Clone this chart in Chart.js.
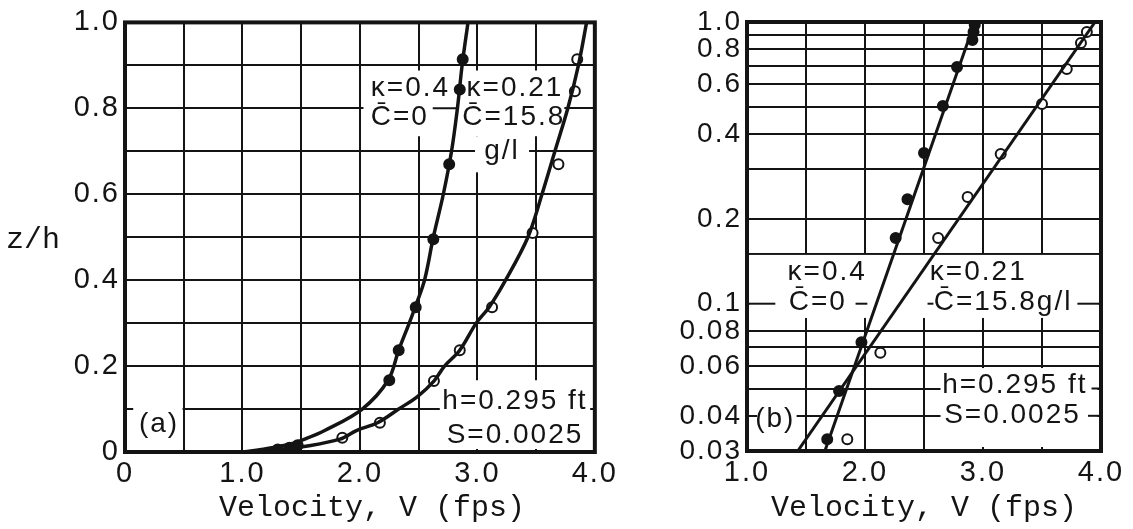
<!DOCTYPE html>
<html><head><meta charset="utf-8">
<script src="https://cdn.jsdelivr.net/npm/chart.js@4.4.1/dist/chart.umd.min.js"></script>
<style>
html,body{margin:0;padding:0;background:#fff;width:1133px;height:529px;overflow:hidden}
#wa{position:absolute;left:0;top:0;width:620px;height:529px}
#wb{position:absolute;left:640px;top:0;width:493px;height:529px}
canvas{display:block}
</style></head><body>
<div id="wa"><canvas id="ca" width="620" height="529"></canvas></div>
<div id="wb"><canvas id="cb" width="493" height="529"></canvas></div>
<script>
// ---------- Panel (a): linear z/h ----------
const aCurve1V = [1.00, 1.12, 1.25, 1.40, 1.53, 1.70, 2.02, 2.24, 2.33, 2.42, 2.47, 2.55, 2.625, 2.71, 2.78, 2.83, 2.87, 2.92];
const aCurve1Z = [0.000,0.004,0.010,0.018,0.030,0.050,0.100,0.167,0.237,0.300,0.337,0.400,0.500,0.600,0.700,0.800,0.900,1.000];
const aCurve2V = [1.00, 1.30, 1.51, 1.83, 1.97, 2.15, 2.33, 2.49, 2.63, 2.72, 2.85, 2.99, 3.10, 3.24, 3.43, 3.55, 3.66, 3.77, 3.86, 3.93];
const aCurve2Z = [0.000,0.004,0.012,0.030,0.050,0.068,0.100,0.129,0.165,0.200,0.237,0.300,0.337,0.400,0.500,0.600,0.700,0.800,0.900,1.000];
const aFilledV = [1.30, 1.40, 1.47, 2.25, 2.33, 2.475, 2.625, 2.76, 2.85, 2.875];
const aFilledZ = [0.006, 0.010, 0.016, 0.167, 0.237, 0.337, 0.495, 0.670, 0.844, 0.914];
const aOpenV = [1.85, 2.17, 2.63, 2.85, 3.125, 3.47, 3.69, 3.83, 3.85];
const aOpenZ = [0.033, 0.068, 0.165, 0.237, 0.337, 0.510, 0.670, 0.840, 0.914];
const aXLabels = [0, 1, 2, 3, 4];
const aYLabels = [0, 0.2, 0.4, 0.6, 0.8, 1.0];

// ---------- Panel (b): log z/h ----------
const bLine1V = [1.66, 2.93];
const bLine1Z = [0.03, 1.0];
const bLine2V = [1.43, 3.95];
const bLine2Z = [0.03, 1.0];
const bFilledV = [1.68, 1.78, 1.97, 2.26, 2.36, 2.50, 2.66, 2.78, 2.91, 2.92, 2.93];
const bFilledZ = [0.033, 0.049, 0.073, 0.171, 0.235, 0.343, 0.503, 0.692, 0.863, 0.921, 0.976];
const bOpenV = [1.85, 2.13, 2.62, 2.87, 3.15, 3.50, 3.71, 3.83, 3.88];
const bOpenZ = [0.033, 0.067, 0.171, 0.239, 0.340, 0.512, 0.681, 0.842, 0.921];
const bYGrid = [0.03, 0.04, 0.05, 0.06, 0.07, 0.08, 0.1, 0.15, 0.2, 0.3, 0.4, 0.5, 0.6, 0.7, 0.8, 0.9, 1.0];
const bYLabels = [0.03, 0.04, 0.06, 0.08, 0.1, 0.2, 0.4, 0.6, 0.8, 1.0];
const bXLabels = [1, 2, 3, 4];

const INK = '#141414';
const SANS = '"Liberation Sans", Arial, sans-serif';
const MONO = '"Liberation Mono", "DejaVu Sans Mono", monospace';
const pts = (xs, ys) => xs.map((v, i) => ({x: v, y: ys[i]}));

const notesPlugin = {
  id: 'notes',
  beforeDraw(chart) { try { chart.ctx.letterSpacing = '2px'; } catch(e) {} },
  beforeDatasetsDraw(chart, args, o) {
    const {ctx, chartArea: ca, scales: {x, y}} = chart;
    ctx.save();
    ctx.beginPath(); ctx.rect(ca.left, ca.top, ca.width, ca.height); ctx.clip();
    ctx.fillStyle = '#fff';
    for (const b of o.boxes) {
      const x0 = x.getPixelForValue(b[0]), x1 = x.getPixelForValue(b[1]);
      const y0 = y.getPixelForValue(b[2]), y1 = y.getPixelForValue(b[3]);
      ctx.fillRect(Math.min(x0, x1), Math.min(y0, y1), Math.abs(x1 - x0), Math.abs(y1 - y0));
    }
    ctx.strokeStyle = INK; ctx.lineWidth = 2;
    for (const s of o.segs) {
      const py = y.getPixelForValue(s[2]);
      ctx.beginPath(); ctx.moveTo(x.getPixelForValue(s[0]), py); ctx.lineTo(x.getPixelForValue(s[1]), py); ctx.stroke();
    }
    ctx.restore();
    ctx.save();
    try { ctx.letterSpacing = '2px'; } catch(e) {}
    ctx.fillStyle = INK; ctx.textAlign = 'center'; ctx.textBaseline = 'middle';
    ctx.font = o.font;
    for (const t of o.texts) ctx.fillText(t.s, x.getPixelForValue(t.x), y.getPixelForValue(t.y));
    ctx.restore();
  },
  afterDraw(chart, args, o) {
    const {ctx, chartArea: ca} = chart;
    ctx.save();
    ctx.strokeStyle = INK; ctx.lineWidth = 4; ctx.lineJoin = 'miter';
    ctx.strokeRect(ca.left, ca.top, ca.width, ca.height);
    try { ctx.letterSpacing = '0px'; } catch(e) {}
    ctx.fillStyle = INK; ctx.textAlign = 'center'; ctx.textBaseline = 'middle';
    ctx.font = '30px ' + MONO;
    ctx.fillText('Velocity, V (fps)', (ca.left + ca.right) / 2 + o.titleDx, 508);
    if (o.yTitle) ctx.fillText(o.yTitle, o.yTitlePos[0], o.yTitlePos[1]);
    ctx.restore();
  }
};

function lineDs(data, w) {
  return {type: 'line', data, showLine: true, borderColor: INK, borderWidth: w,
          pointRadius: 0, fill: false, tension: 0.35};
}
function ptDs(data, filled) {
  return {type: 'line', data, showLine: false, pointRadius: 5, pointBorderWidth: 2,
          pointBorderColor: INK, pointBackgroundColor: filled ? INK : '#fff'};
}
const gridOpts = {color: INK, lineWidth: 2, drawTicks: false};

// ---------- Chart (a) ----------
new Chart(document.getElementById('ca'), {
  type: 'line',
  data: {datasets: [
    lineDs(pts(aCurve1V, aCurve1Z), 3.5),
    lineDs(pts(aCurve2V, aCurve2Z), 3.5),
    ptDs(pts(aFilledV, aFilledZ), true),
    ptDs(pts(aOpenV, aOpenZ), false)
  ]},
  options: {
    responsive: false, animation: false, events: [],
    layout: {padding: {left: 0, top: 22, right: 21, bottom: 0}},
    plugins: {legend: {display: false}, tooltip: {enabled: false},
      notes: {
        font: '28px ' + SANS, titleDx: 12, yTitle: 'z/h', yTitlePos: [33, 240],
        boxes: [[2.03, 3.74, 0.735, 0.888], [2.98, 3.44, 0.651, 0.735],
                [2.68, 3.96, 0.007, 0.167], [0.07, 0.49, 0.012, 0.114]],
        segs: [[2.62, 2.84, 0.8]],
        texts: [
          {s: 'κ=0.4', x: 2.43, y: 0.847}, {s: 'C\u0304=0', x: 2.34, y: 0.779},
          {s: 'κ=0.21', x: 3.32, y: 0.847}, {s: 'C\u0304=15.8', x: 3.31, y: 0.779},
          {s: 'g/l', x: 3.21, y: 0.70},
          {s: 'h=0.295 ft', x: 3.32, y: 0.119}, {s: 'S=0.0025', x: 3.32, y: 0.040},
          {s: '(a)', x: 0.29, y: 0.065}
        ]
      }
    },
    scales: {
      x: {type: 'linear', min: 0, max: 4, grid: gridOpts, border: {display: false},
          afterFit: s => { s.height = 77; },
          ticks: {stepSize: 0.5, autoSkip: false, maxRotation: 0, padding: 5, color: INK,
                  font: {family: SANS, size: 29},
                  callback: v => { const k = Math.round(v * 10) / 10;
                    return aXLabels.includes(k) ? (k === 0 ? '0' : k.toFixed(1)) : ''; }}},
      y: {type: 'linear', min: 0, max: 1, grid: gridOpts, border: {display: false},
          afterFit: s => { s.width = 125; },
          ticks: {stepSize: 0.1, autoSkip: false, padding: 5, color: INK,
                  font: {family: SANS, size: 29},
                  callback: v => { const k = Math.round(v * 10) / 10;
                    return aYLabels.includes(k) ? (k === 0 ? '0' : k.toFixed(1)) : ''; }}}
    }
  },
  plugins: [notesPlugin]
});

// ---------- Chart (b) ----------
new Chart(document.getElementById('cb'), {
  type: 'line',
  data: {datasets: [
    {...lineDs(pts(bLine1V, bLine1Z), 3), tension: 0},
    {...lineDs(pts(bLine2V, bLine2Z), 3), tension: 0},
    ptDs(pts(bFilledV, bFilledZ), true),
    ptDs(pts(bOpenV, bOpenZ), false)
  ]},
  options: {
    responsive: false, animation: false, events: [],
    layout: {padding: {left: 0, top: 22, right: 32, bottom: 0}},
    plugins: {legend: {display: false}, tooltip: {enabled: false},
      notes: {
        font: '28px ' + SANS, titleDx: 0, yTitle: null,
        boxes: [[1.02, 3.98, 0.089, 0.149], [2.64, 3.97, 0.031, 0.0591], [1.085, 1.42, 0.0327, 0.0447]],
        segs: [[1.0, 1.24, 0.1], [1.92, 2.02, 0.1], [2.53, 2.58, 0.1], [3.80, 4.0, 0.1],
               [3.92, 4.0, 0.05], [3.89, 4.0, 0.04]],
        texts: [
          {s: 'κ=0.4', x: 1.68, y: 0.1296}, {s: 'C\u0304=0', x: 1.60, y: 0.1014},
          {s: 'κ=0.21', x: 2.96, y: 0.1296}, {s: 'C\u0304=15.8g/l', x: 3.17, y: 0.1014},
          {s: 'h=0.295 ft', x: 3.27, y: 0.0515}, {s: 'S=0.0025', x: 3.25, y: 0.0403},
          {s: '(b)', x: 1.24, y: 0.039}
        ]
      }
    },
    scales: {
      x: {type: 'linear', min: 1, max: 4, grid: gridOpts, border: {display: false},
          afterFit: s => { s.height = 78; },
          ticks: {stepSize: 0.5, autoSkip: false, maxRotation: 0, padding: 5, color: INK,
                  font: {family: SANS, size: 29},
                  callback: v => { const k = Math.round(v * 10) / 10;
                    return bXLabels.includes(k) ? k.toFixed(1) : ''; }}},
      y: {type: 'logarithmic', min: 0.03, max: 1, grid: gridOpts, border: {display: false},
          afterFit: s => { s.width = 107; },
          afterBuildTicks: s => { s.ticks = bYGrid.map(v => ({value: v})); },
          ticks: {autoSkip: false, padding: 5, color: INK,
                  font: {family: SANS, size: 28},
                  callback: v => bYLabels.includes(v) ? (v === 1 ? '1.0' : String(v)) : ''}}
    }
  },
  plugins: [notesPlugin]
});
</script>
</body></html>
